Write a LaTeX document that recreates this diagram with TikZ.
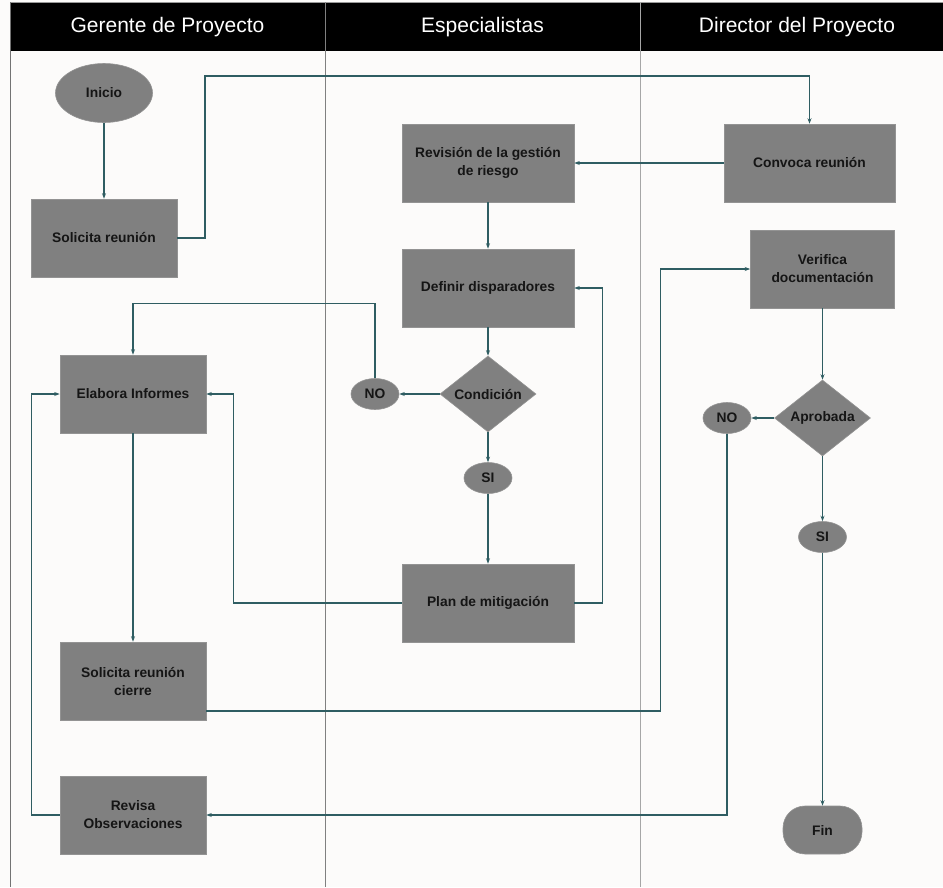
\documentclass[tikz,border=0pt]{standalone}
\usepackage{fontspec}
\setmainfont{Liberation Sans}
\usetikzlibrary{arrows.meta,shapes.geometric,calc}

\definecolor{paper}{HTML}{FCFBFA}
\definecolor{boxfill}{HTML}{808080}
\definecolor{flowline}{HTML}{2F5D62}
\definecolor{lanegray}{HTML}{9A9A9A}
\definecolor{inktext}{HTML}{151515}

\tikzset{
  lane/.style={draw=lanegray, line width=1pt},
  head/.style={text=white, font=\fontsize{21}{24}\selectfont},
  base/.style={fill=boxfill, draw=boxfill!85!white, line width=0.6pt, inner sep=0pt,
               text=inktext, align=center, font=\bfseries\fontsize{13.8}{18}\selectfont},
  taskbox/.style={base, rectangle, minimum width=146pt, minimum height=78pt},
  widebox/.style={base, rectangle, minimum width=172pt, minimum height=78pt},
  oval/.style={base, ellipse, minimum width=97pt, minimum height=59pt},
  smalloval/.style={base, ellipse, minimum width=48pt, minimum height=31pt},
  decision/.style={base, diamond, shape aspect=1.27, minimum width=96pt, minimum height=76pt},
  endcap/.style={base, rectangle, rounded corners=22pt, minimum width=79pt, minimum height=48pt},
  flow/.style={draw=flowline, line width=1.2pt, -{Stealth[length=5.5pt,width=4pt]}},
}

\begin{document}
\begin{tikzpicture}[x=1pt, y=-1pt]
  % canvas
  \useasboundingbox (0,0) rectangle (943,887);
  \fill[paper] (0,0) rectangle (943,887);

  % lane headers and lane borders
  \fill[black] (10,3) rectangle (943,51);
  \draw[lane] (10,2) -- (943,2);
  \draw[lane, draw=gray!110] (10,2) -- (10,887);
  \draw[lane, draw=gray] (325,2) -- (325,887);
  \draw[lane, draw=gray!70] (640,2) -- (640,887);
  \node[head] (h1) at (167.5,27) {Gerente de Proyecto};
  \node[head] (h2) at (482.5,27) {Especialistas};
  \node[head] (h3) at (797,27) {Director del Proyecto};

  % Gerente de Proyecto
  \node[oval]    (inicio)   at (104,93)  {Inicio};
  \node[taskbox] (sol1)     at (104,238) {Solicita reunión};
  \node[taskbox] (elabora)  at (133,394) {Elabora Informes};
  \node[taskbox] (cierre)   at (133,681) {Solicita reunión\\cierre};
  \node[taskbox] (revisa)   at (133,815) {Revisa\\Observaciones};

  % Especialistas
  \node[widebox]  (revision) at (488,163) {Revisión de la gestión\\de riesgo};
  \node[widebox]  (definir)  at (488,288) {Definir disparadores};
  \node[decision] (cond)     at (488,394) {Condición};
  \node[smalloval] (no1)     at (375,394) {NO};
  \node[smalloval] (si1)     at (488,478) {SI};
  \node[widebox]  (plan)     at (488,603) {Plan de mitigación};

  % Director del Proyecto
  \node[widebox, minimum width=171pt] (convoca) at (809.5,163) {Convoca reunión};
  \node[taskbox, minimum width=144pt] (verifica) at (822.5,269) {Verifica\\documentación};
  \node[decision]  (aprob)  at (822.5,418) {Aprobada};
  \node[smalloval] (no2)    at (727,418) {NO};
  \node[smalloval] (si2)    at (822.5,537) {SI};
  \node[endcap]    (fin)    at (822.5,830) {Fin};

  % connectors
  \draw[flow] (inicio) -- (sol1);
  \draw[flow] (sol1.east) -| (205,76) -| (convoca.north);
  \draw[flow] (convoca) -- (revision);
  \draw[flow] (revision) -- (definir);
  \draw[flow] (definir) -- (cond);
  \draw[flow] (cond) -- (no1);
  \draw[flow] (no1.north) |- ($(elabora.north)+(0,-51)$) -- (elabora.north);
  \draw[flow] (cond) -- (si1);
  \draw[flow] (si1) -- (plan);
  \draw[flow] (plan.east) -- ++(28,0) |- (definir.east);
  \draw[flow] (plan.west) -- ++(-168,0) |- (elabora.east);
  \draw[flow] (elabora) -- (cierre);
  \draw[flow] ([yshift=-30pt]cierre.east) -- ++(454,0) |- (verifica.west);
  \draw[flow] (verifica) -- (aprob);
  \draw[flow] (aprob) -- (no2);
  \draw[flow] (no2.south) |- (revisa.east);
  \draw[flow] (aprob) -- (si2);
  \draw[flow] (si2) -- (fin);
  \draw[flow] (revisa.west) -- ++(-28,0) |- (elabora.west);
\end{tikzpicture}
\end{document}
